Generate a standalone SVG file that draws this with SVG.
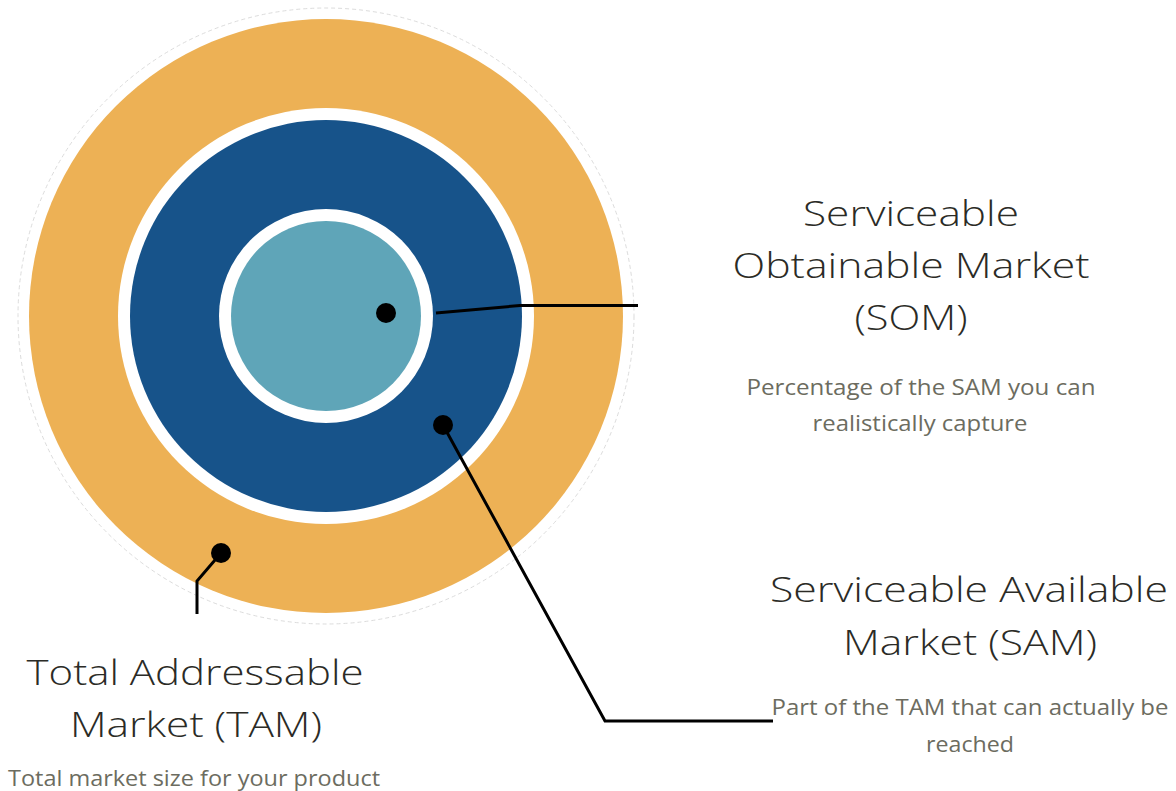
<svg xmlns="http://www.w3.org/2000/svg" width="1176" height="791" viewBox="0 0 1176 791">
  <style>
    .title { font-family: "Open Sans", "Liberation Sans", sans-serif; font-weight: 300; font-size: 35px; fill: #2b2b26; text-anchor: middle; }
    .desc { font-family: "Open Sans", "Liberation Sans", sans-serif; font-weight: 400; font-size: 22px; fill: #6c6c60; text-anchor: middle; }
    .lead { fill: none; stroke: #000; stroke-width: 3; stroke-linejoin: miter; stroke-linecap: butt; }
    .dot { fill: #000; }
  </style>
  <rect width="1176" height="791" fill="#ffffff"/>

  <!-- concentric market rings -->
  <g id="tam-ring">
    <circle cx="326" cy="316" r="308" fill="#ffffff" stroke="#dcdcdc" stroke-width="1" stroke-dasharray="4 3"/>
    <circle cx="326" cy="316" r="297" fill="#edb155"/>
  </g>
  <g id="sam-ring">
    <circle cx="326" cy="316" r="208" fill="#ffffff"/>
    <circle cx="326" cy="316" r="196" fill="#17538a"/>
  </g>
  <g id="som-core">
    <circle cx="326" cy="316" r="107" fill="#ffffff"/>
    <circle cx="326" cy="316" r="95" fill="#5fa5b8"/>
  </g>

  <!-- leader lines from each ring to its label -->
  <g id="connectors">
    <polyline class="lead" points="436,313 520,305.5 638,305.5"/>
    <polyline class="lead" points="443,425 605,721 773,721"/>
    <polyline class="lead" points="221,553 197,581 197,614"/>
    <circle class="dot" cx="386" cy="313" r="10"/>
    <circle class="dot" cx="443" cy="425" r="10"/>
    <circle class="dot" cx="221" cy="553" r="10"/>
  </g>

  <g id="som-label">
    <text class="title" x="911" y="226" textLength="216" lengthAdjust="spacingAndGlyphs">Serviceable</text>
    <text class="title" x="911" y="278" textLength="357" lengthAdjust="spacingAndGlyphs">Obtainable Market</text>
    <text class="title" x="911" y="330" textLength="113" lengthAdjust="spacingAndGlyphs">(SOM)</text>
    <text class="desc" x="921" y="395" textLength="349" lengthAdjust="spacingAndGlyphs">Percentage of the SAM you can</text>
    <text class="desc" x="920" y="431" textLength="215" lengthAdjust="spacingAndGlyphs">realistically capture</text>
  </g>

  <g id="sam-label">
    <text class="title" x="969" y="602" textLength="398" lengthAdjust="spacingAndGlyphs">Serviceable Available</text>
    <text class="title" x="970" y="655" textLength="254" lengthAdjust="spacingAndGlyphs">Market (SAM)</text>
    <text class="desc" x="970" y="715" textLength="397" lengthAdjust="spacingAndGlyphs">Part of the TAM that can actually be</text>
    <text class="desc" x="970" y="752" textLength="88" lengthAdjust="spacingAndGlyphs">reached</text>
  </g>

  <g id="tam-label">
    <text class="title" x="195" y="685" textLength="337" lengthAdjust="spacingAndGlyphs">Total Addressable</text>
    <text class="title" x="196" y="737" textLength="252" lengthAdjust="spacingAndGlyphs">Market (TAM)</text>
    <text class="desc" x="194" y="786" textLength="372" lengthAdjust="spacingAndGlyphs">Total market size for your product</text>
  </g>
</svg>
